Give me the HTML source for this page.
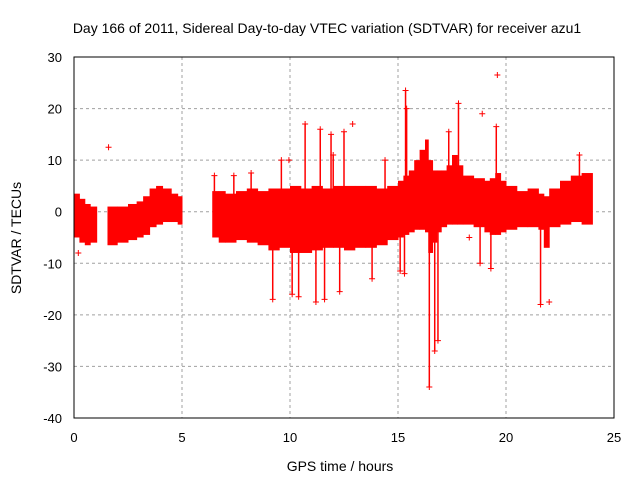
<!DOCTYPE html>
<html><head><meta charset="utf-8"><style>
body{margin:0;background:#fff}
svg{display:block;font-family:"Liberation Sans",sans-serif}
</style></head><body>
<svg id="chart" width="640" height="480">
<text x="327" y="33" font-size="14" text-anchor="middle">Day 166 of 2011, Sidereal Day-to-day VTEC variation (SDTVAR) for receiver azu1</text>
<text x="340" y="471" font-size="14" text-anchor="middle">GPS time / hours</text>
<text x="21" y="238" font-size="14" text-anchor="middle" transform="rotate(-90 21 238)">SDTVAR / TECUs</text>
<g id="grid"></g><g id="data"></g>
<rect x="74" y="57" width="540" height="361" fill="none" stroke="#000"/>
</svg>
<script>
const xTicks=[0,5,10,15,20,25];
const yTicks=[30,20,10,0,-10,-20,-30,-40];
const bandT=[0,0.25,0.5,0.75,1.05,1.55,2.0,2.5,2.9,3.2,3.5,3.8,4.1,4.5,4.8,5.0,6.4,6.7,7.0,7.5,8.0,8.5,9.0,9.5,10.0,10.5,11.0,11.5,12.0,12.5,13.0,13.5,14.0,14.5,15.0,15.25,15.5,15.75,16.0,16.25,16.4,16.6,16.8,17.0,17.25,17.5,17.75,18.0,18.5,19.0,19.25,19.5,19.75,20.0,20.5,21.0,21.5,21.75,22.0,22.5,23.0,23.5,24.0];
const bandHi=[3.5,2.5,1.5,1,null,1,1,1.5,2,3,4.5,5,4.5,3.5,3,null,4,4,3.5,4,4.5,4,4.5,4.5,5,4.5,5,4.5,5,5,5,5,4.5,5,6,7,8,10,12,14,10,8,8,8,9,11,9,7,6.5,6,6.5,7.5,6,5,4,4.5,3.5,3,4.5,6,7,7.5,null];
const bandLo=[-5,-6,-6.5,-6,null,-6.5,-6,-5.5,-5,-4.5,-3,-2.5,-2,-2,-2.5,null,-5,-6,-6,-5.5,-6,-6.5,-7.5,-7,-8,-8,-7.5,-7,-7,-7.5,-7,-7,-6.5,-5.5,-5,-4.5,-4,-3.5,-3.5,-4,-8,-6,-4,-3,-2.5,-2.5,-2.5,-2.5,-3,-4,-4.5,-4.5,-4,-3.5,-3,-3,-3.5,-7,-3,-2.5,-2,-2.5,null];
const spikeX=[15.35,15.4,16.45,17.8,19.55,16.7,16.85,11.4,10.7,10.4,11.2,11.6,12.3,12.5,13.8,14.4,15.3,9.2,9.6,8.2,7.4,6.5,21.6,23.4,11.9,18.8,19.3,15.1,17.35,10.1,12.0];
const spikeY=[23.5,20,-34,21,16.5,-27,-25,16,17,-16.5,-17.5,-17,-15.5,15.5,-13,10,-12,-17,10,7.5,7,7,-18,11,15,-10,-11,-11.5,15.5,-16,11];
const ptX=[1.6,19.6,12.9,18.9,18.3,22.0,9.95,0.2];
const ptY=[12.5,26.5,17,19,-5,-17.5,10,-8];
const X=v=>74+v*21.6, Y=v=>57+(30-v)*361/70;
const ns="http://www.w3.org/2000/svg";
const g=document.getElementById('grid'),d=document.getElementById('data');
function mk(tag,at,parent){const e=document.createElementNS(ns,tag);for(const k in at)e.setAttribute(k,at[k]);parent.appendChild(e);return e;}
xTicks.forEach(t=>{
 if(t>0&&t<25){const l=mk('line',{x1:X(t),x2:X(t),y1:57,y2:418,stroke:'#a0a0a0','stroke-dasharray':'3,3'},g);
 
 }
 const tx=mk('text',{x:X(t),y:442,'font-size':13,'text-anchor':'middle'},g);tx.textContent=t;
 
 
});
yTicks.forEach(t=>{
 if(t<30&&t>-40){const l=mk('line',{x1:74,x2:614,y1:Y(t),y2:Y(t),stroke:'#a0a0a0','stroke-dasharray':'3,3'},g);
 
 }
 const tx=mk('text',{x:62,y:Y(t)+5,'font-size':13,'text-anchor':'end'},g);tx.textContent=t;
 
 
});
for(let i=0;i<bandT.length-1;i++){
 if(bandHi[i]===null)continue;
 const r=mk('rect',{x:X(bandT[i]),y:Y(bandHi[i]),width:X(bandT[i+1])-X(bandT[i])+0.5,height:Y(bandLo[i])-Y(bandHi[i]),fill:'#ff0000'},d);
 
 
}
function cross(x,y,c,name){
 const p=mk('path',{d:`M${x-3},${y}h6M${x},${y-3}v6`,stroke:c,'stroke-width':1},d);
 
 
}
spikeX.forEach((sx,i)=>{
 const l=mk('line',{x1:X(sx),x2:X(sx),y1:Y(0),y2:Y(spikeY[i]),stroke:'#ff0000','stroke-width':1.5},d);
 
 
 cross(X(sx),Y(spikeY[i]),'#ff0000','spike-marker');
});
ptX.forEach((px,i)=>cross(X(px),Y(ptY[i]),'#ff0000','outlier-point'));
</script>
</body></html>
